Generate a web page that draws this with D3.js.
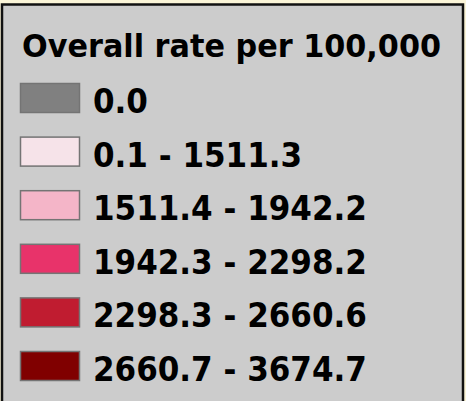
<!DOCTYPE html>
<html><head><meta charset="utf-8">
<script src="https://cdn.jsdelivr.net/npm/d3@7"></script>
<style>html,body{margin:0;padding:0;background:#fbf5d8;}svg{display:block;}</style>
</head><body>
<script>
const title = "Overall rate per 100,000";
const classLabels = ["0.0", "0.1 - 1511.3", "1511.4 - 1942.2", "1942.3 - 2298.2", "2298.3 - 2660.6", "2660.7 - 3674.7"];
const classColors = ["#808080", "#f6e3e9", "#f4b5c8", "#e8336a", "#c01c30", "#800000"];

const W = 466, H = 401;
const svg = d3.select("body").append("svg").attr("width", W).attr("height", H);

svg.append("rect").attr("x", 0).attr("y", 0).attr("width", W).attr("height", H).attr("fill", "#fbf5d8");

svg.append("rect").attr("x", 2).attr("y", 4.5).attr("width", 461).attr("height", 410)
  .attr("fill", "#cccccc").attr("stroke", "#111").attr("stroke-width", 2.5);

const font = "'DejaVu Sans', Verdana, sans-serif";

svg.append("text").attr("x", 22).attr("y", 57).text(title)
  .attr("font-family", font).attr("font-weight", "bold").attr("font-size", 32)
  .attr("fill", "#000").attr("textLength", 419).attr("lengthAdjust", "spacingAndGlyphs");

const y = d3.scaleBand().domain(d3.range(classLabels.length)).range([83, 83 + 53.6 * classLabels.length]).paddingInner(0);

const rows = svg.selectAll("g.row").data(classLabels).join("g").attr("class", "row")
  .attr("transform", (d, i) => `translate(0,${y(i)})`);

rows.append("rect").attr("x", 20.5).attr("y", 0.5).attr("width", 59).attr("height", 29)
  .attr("fill", (d, i) => classColors[i]).attr("stroke", "#747474").attr("stroke-width", 1.5);

rows.append("text").attr("x", 93).attr("y", 30).text(d => d)
  .attr("font-family", font).attr("font-weight", "bold").attr("font-size", 33)
  .attr("fill", "#000")
  .each(function(d) {
    const w = this.getComputedTextLength();
    this.setAttribute("textLength", w * 0.94);
    this.setAttribute("lengthAdjust", "spacingAndGlyphs");
  });
</script>
</body></html>
